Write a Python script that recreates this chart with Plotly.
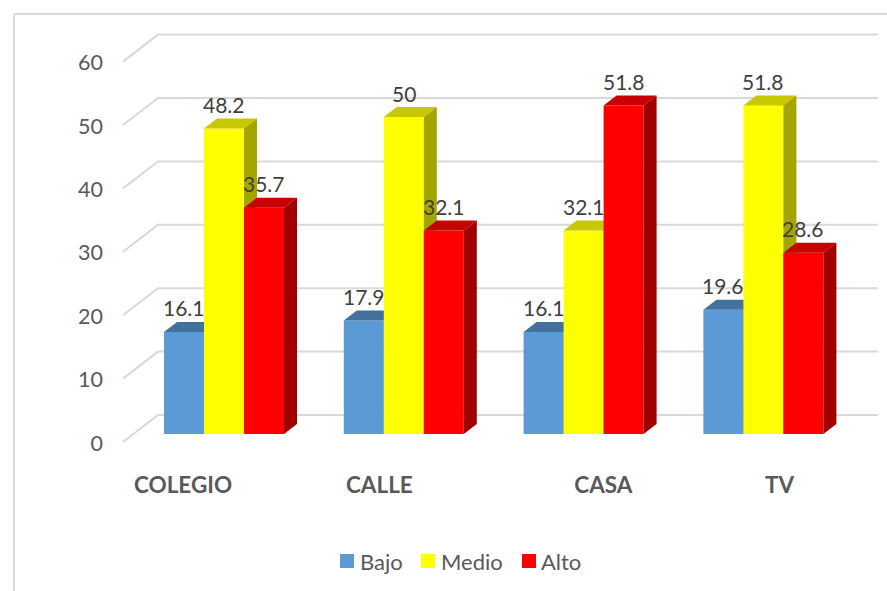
import plotly.graph_objects as go

categories = ["COLEGIO", "CALLE", "CASA", "TV"]
series_names = ["Bajo", "Medio", "Alto"]
bajo = [16.1, 17.9, 16.1, 19.6]
medio = [48.2, 50, 32.1, 51.8]
alto = [35.7, 32.1, 51.8, 28.6]
y_ticks = [0, 10, 20, 30, 40, 50, 60]

front = ["#5B9BD5", "#FFFF00", "#FF0000"]
top = ["#41719C", "#C8C800", "#C80000"]
side = ["#356089", "#A5A500", "#A00000"]
values = [bajo, medio, alto]

W, H = 887, 591
X0, STEP = 224.0, 179.8          # pixel of first group centre, pixels per category
BAR = 40.0
PXU = 6.34                       # pixels per value unit
Y0_BAR, Y0_TICK = 434.0, 443.0   # pixel of value 0, front of bars / axis labels
xrange_ = [(0 - X0) / STEP, (W - X0) / STEP]
y2range = [(Y0_BAR - H) / PXU, Y0_BAR / PXU]
yrange = [(Y0_TICK - H) / PXU, Y0_TICK / PXU]
DX, DY = 13 / STEP, 10 / PXU
w = BAR / STEP

fig = go.Figure()

# Slanted gridlines on floor/back wall
gx, gy = [], []
for t in y_ticks:
    gx += [(123 - X0) / STEP, (158 - X0) / STEP, (878 - X0) / STEP, None]
    back = t + 28 / PXU
    gy += [t + 1 / PXU, back, back, None]
fig.add_trace(go.Scatter(x=gx, y=gy, mode="lines", yaxis="y", showlegend=False, hoverinfo="skip",
                         line=dict(color="#D9D9D9", width=2), zorder=0))

for k, (name, vals) in enumerate(zip(series_names, values)):
    fig.add_trace(go.Bar(x=list(range(len(categories))), y=vals, name=name, yaxis="y2", showlegend=False,
                         marker=dict(color=front[k], line=dict(width=0)), zorder=k + 1))
    tx, ty, sx, sy = [], [], [], []
    for i, v in enumerate(vals):
        xl = i + (k - 1.5) * w
        xr = xl + w
        tx += [xl, xr, xr + DX, xl + DX, xl, None]
        ty += [v, v, v + DY, v + DY, v, None]
        sx += [xr, xr + DX, xr + DX, xr, xr, None]
        sy += [0, DY, v + DY, v, 0, None]
    for px, py, col in ((tx, ty, top[k]), (sx, sy, side[k])):
        fig.add_trace(go.Scatter(x=px, y=py, mode="lines", fill="toself", fillcolor=col, yaxis="y2",
                                 line=dict(width=0, color=col), showlegend=False, hoverinfo="skip",
                                 zorder=k + 1))

annotations = []
for k, vals in enumerate(values):
    for i, v in enumerate(vals):
        annotations.append(dict(x=i + (k - 1) * w, y=v, xref="x", yref="y2", text=str(v), showarrow=False,
                                yshift=24, font=dict(family="Lato", size=21, color="#404040")))

shapes = [
    dict(type="line", xref="paper", yref="paper", x0=14 / W, x1=1, y0=1 - 14 / H, y1=1 - 14 / H,
         line=dict(color="#D9D9D9", width=2)),
    dict(type="line", xref="paper", yref="paper", x0=14 / W, x1=14 / W, y0=0, y1=1 - 14 / H,
         line=dict(color="#D9D9D9", width=2)),
]
# Legend keys and labels
for name, col, sw_x, tx_x in zip(series_names, front, (340, 421, 522), (360, 441, 541)):
    shapes.append(dict(type="rect", xref="paper", yref="paper", x0=sw_x / W, x1=(sw_x + 14) / W,
                       y0=1 - 568 / H, y1=1 - 554 / H, fillcolor=col, line=dict(width=0)))
    annotations.append(dict(x=tx_x / W, y=1 - 561.5 / H, xref="paper", yref="paper", text=name, showarrow=False,
                            xanchor="left", yanchor="middle", xshift=0, borderpad=0, borderwidth=0,
                            font=dict(family="Lato", size=22, color="#595959")))

fig.update_layout(
    width=W, height=H, autosize=False, margin=dict(l=0, r=0, t=0, b=0), showlegend=False,
    paper_bgcolor="white", plot_bgcolor="rgba(0,0,0,0)",
    barmode="group", bargap=1 - 3 * w, bargroupgap=0,
    xaxis=dict(range=xrange_, anchor="free", position=0.205, showgrid=False, zeroline=False, showline=False,
               tickmode="array", tickvals=[-0.228, 0.864, 2.11, 3.09], ticktext=categories, ticks="",
               tickfont=dict(family="Lato", size=22.5, color="#595959", weight="bold")),
    yaxis=dict(range=yrange, anchor="free", position=103 / W, showgrid=False, zeroline=False, showline=False,
               tickmode="array", tickvals=y_ticks, ticks="",
               tickfont=dict(family="Lato", size=21.5, color="#595959")),
    yaxis2=dict(range=y2range, overlaying="y", visible=False),
    annotations=annotations,
    shapes=shapes,
)
fig.write_html("out.html", config=dict(displayModeBar=False),
               post_script="document.body.style.margin='0';")
